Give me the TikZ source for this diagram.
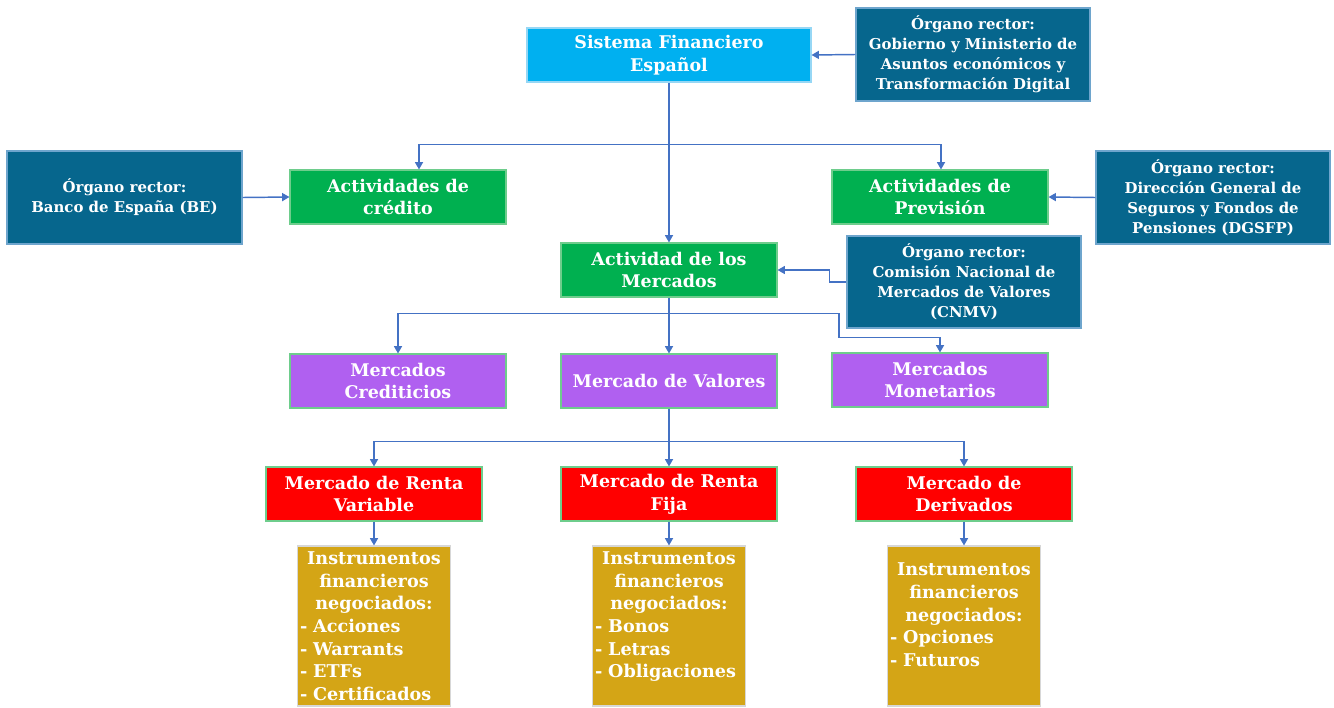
\documentclass[tikz,border=0pt]{standalone}
\usepackage{fontspec}
\setmainfont{DejaVu Serif}
\usetikzlibrary{arrows.meta}
\definecolor{cLB}{RGB}{0,176,240}
\definecolor{cLBb}{RGB}{150,215,245}
\definecolor{cDB}{RGB}{6,102,141}
\definecolor{cDBb}{RGB}{110,165,205}
\definecolor{cGR}{RGB}{0,176,80}
\definecolor{cGRb}{RGB}{110,205,140}
\definecolor{cPU}{RGB}{176,96,240}
\definecolor{cRD}{RGB}{255,0,0}
\definecolor{cGO}{RGB}{212,165,22}
\definecolor{cGOb}{RGB}{215,215,215}
\definecolor{cLN}{RGB}{68,114,196}
\begin{document}
\begin{tikzpicture}[x=0.75pt,y=-0.75pt,
  sz/.style 2 args={minimum width=#1*0.75pt, minimum height=#2*0.75pt},
  box/.style={rectangle, inner sep=1pt, text=white, align=center, line width=0.8pt,
    font=\bfseries\fontsize{13.1}{17}\selectfont},
  lbbox/.style={box, fill=cLB, draw=cLBb, sz={284}{54}},
  dbbox/.style={box, fill=cDB, draw=cDBb, sz={234}{93},
    font=\bfseries\fontsize{11.2}{15}\selectfont},
  grbox/.style={box, fill=cGR, draw=cGRb, sz={216}{54}},
  pubox/.style={box, fill=cPU, draw=cGRb, sz={216}{54}},
  rdbox/.style={box, fill=cRD, draw=cGRb, sz={216}{54}},
  gobox/.style={box, fill=cGO, draw=cGOb, sz={153}{160}},
  gotxt/.style={text=white, inner sep=0pt, align=left, text width=111pt,
    font=\bfseries\fontsize{13.2}{17}\selectfont},
  conn/.style={draw=cLN, line width=1.1pt, -{Triangle[length=5.5pt,width=6pt]}}
]
\useasboundingbox (0,0) rectangle (1334,707);

% nodes
\node[lbbox] (sfe) at (669,55) {Sistema Financiero\\Español};
\node[dbbox] (or1) at (973,54.5) {Órgano rector:\\Gobierno y Ministerio de\\Asuntos económicos y\\Transformación Digital};
\node[dbbox, minimum width=235*0.75pt] (be) at (124.5,197.5) {Órgano rector:\\Banco de España (BE)};
\node[grbox] (cred) at (398,197) {Actividades de\\crédito};
\node[grbox] (prev) at (940,197) {Actividades de\\Previsión};
\node[dbbox] (dgsfp) at (1213,197.5) {Órgano rector:\\Dirección General de\\Seguros y Fondos de\\Pensiones (DGSFP)};
\node[grbox] (merc) at (669,270) {Actividad de los\\Mercados};
\node[dbbox, minimum height=92*0.75pt] (cnmv) at (964,282) {Órgano rector:\\Comisión Nacional de\\Mercados de Valores\\(CNMV)};
\node[pubox] (mcred) at (398,381) {Mercados\\Crediticios};
\node[pubox] (mval) at (669,381) {Mercado de Valores};
\node[pubox] (mmon) at (940,380) {Mercados\\Monetarios};
\node[rdbox] (rv) at (374,494) {Mercado de Renta\\Variable};
\node[rdbox] (rf) at (669,494) {Mercado de Renta\\Fija};
\node[rdbox] (der) at (964,494) {Mercado de\\Derivados};
\node[gobox] (g1) at (374,626) {};
\node[gobox] (g2) at (669,626) {};
\node[gobox] (g3) at (964,626) {};
\node[gotxt, anchor=north] (g1t) at ([yshift=-4.5pt]g1.north)
  {\makebox[\hsize]{Instrumentos}\\\makebox[\hsize]{financieros}\\\makebox[\hsize]{negociados:}\\- Acciones\\- Warrants\\- ETFs\\- Certificados};
\node[gotxt, anchor=north] (g2t) at ([yshift=-4.5pt]g2.north)
  {\makebox[\hsize]{Instrumentos}\\\makebox[\hsize]{financieros}\\\makebox[\hsize]{negociados:}\\- Bonos\\- Letras\\- Obligaciones};
\node[gotxt, anchor=north] (g3t) at ([yshift=-13pt]g3.north)
  {\makebox[\hsize]{Instrumentos}\\\makebox[\hsize]{financieros}\\\makebox[\hsize]{negociados:}\\- Opciones\\- Futuros};

% connectors
\draw[conn] (or1.west) -- (sfe.east);
\draw[conn] (sfe.south) -- (merc.north);
\draw[conn] (sfe.south) ++(0,62) -| ([xshift=15.75pt]cred.north);
\draw[conn] (sfe.south) ++(0,62) -| ([xshift=0.75pt]prev.north);
\draw[conn] (be.east) -- (cred.west);
\draw[conn] (dgsfp.west) -- (prev.east);
\draw[conn] (cnmv.west) -- ++(-17,0) |- (merc.east);
\draw[conn] (merc.south) -- (mval.north);
\draw[conn] (merc.south) ++(0,16) -| (mcred.north);
\draw[conn] (merc.south) ++(0,16) -| ++(170,24) -| (mmon.north);
\draw[conn] (mval.south) -- (rf.north);
\draw[conn] (mval.south) ++(0,33) -| (rv.north);
\draw[conn] (mval.south) ++(0,33) -| (der.north);
\draw[conn] (rv.south) -- (g1.north);
\draw[conn] (rf.south) -- (g2.north);
\draw[conn] (der.south) -- (g3.north);
\end{tikzpicture}
\end{document}
